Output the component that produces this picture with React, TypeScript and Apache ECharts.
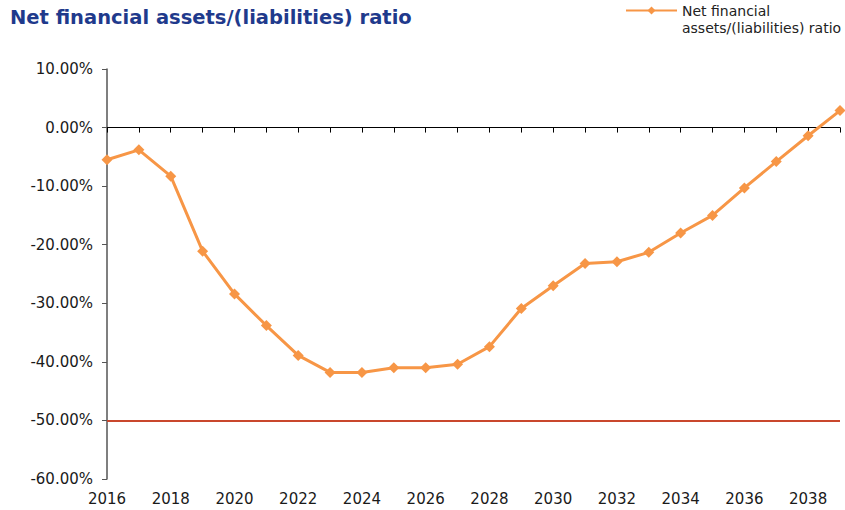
import React, { useEffect, useRef } from "react";
import * as echarts from "echarts";

// Years on the horizontal axis and the ratio (in %) for each year
const years: number[] = [
  2016, 2017, 2018, 2019, 2020, 2021, 2022, 2023, 2024, 2025, 2026, 2027,
  2028, 2029, 2030, 2031, 2032, 2033, 2034, 2035, 2036, 2037, 2038, 2039,
];
const ratioValues: number[] = [
  -5.5, -3.8, -8.3, -21.1, -28.4, -33.8, -38.9, -41.8, -41.8, -41.0, -41.0, -40.4,
  -37.4, -30.9, -27.0, -23.2, -22.9, -21.3, -18.0, -15.0, -10.3, -5.8, -1.4, 2.9,
];
// Threshold drawn as a horizontal reference line
const thresholdValue = -50;

const seriesName = "Net financial\nassets/(liabilities) ratio";
const titleText = "Net financial assets/(liabilities) ratio";

const FONT = "DejaVu Sans";

export default function App() {
  const ref = useRef<HTMLDivElement>(null);

  useEffect(() => {
    if (!ref.current) return;
    const chart = echarts.init(ref.current, undefined, { renderer: "svg" });
    const xMin = years[0];
    const xMax = years[years.length - 1];

    chart.setOption({
      animation: false,
      backgroundColor: "#ffffff",
      title: {
        text: titleText,
        left: 10,
        top: 7,
        padding: 0,
        textStyle: {
          fontFamily: FONT,
          fontSize: 19.5,
          fontWeight: "bold",
          color: "#1F3A8C",
        },
      },
      legend: {
        left: 625,
        top: -15,
        padding: 0,
        itemWidth: 51,
        itemHeight: 10,
        itemGap: 0,
        // a leading blank line keeps the icon level with the first text line
        formatter: (name: string) => "\n" + name,
        textStyle: {
          fontFamily: FONT,
          fontSize: 14,
          color: "#222222",
          lineHeight: 17,
        },
        data: [seriesName],
      },
      grid: {
        left: 107,
        right: 5,
        top: 69,
        bottom: 31,
        containLabel: false,
      },
      xAxis: [
        {
          type: "value",
          min: xMin,
          max: xMax,
          interval: 1,
          position: "bottom",
          axisLine: { show: false, onZero: false },
          axisTick: { show: false },
          splitLine: { show: false },
          axisLabel: {
            margin: 12,
            fontFamily: FONT,
            fontSize: 15,
            color: "#1a1a1a",
            formatter: (v: number) => (v % 2 === 0 ? String(v) : ""),
          },
        },
        {
          type: "value",
          min: xMin,
          max: xMax,
          interval: 1,
          position: "top",
          axisLine: { show: true, onZero: true, lineStyle: { color: "#000000", width: 1 } },
          axisTick: { show: true, inside: true, length: 5, lineStyle: { color: "#000000" } },
          axisLabel: { show: false },
          splitLine: { show: false },
        },
      ],
      yAxis: {
        type: "value",
        min: -60,
        max: 10,
        interval: 10,
        axisLine: { show: true, onZero: false, lineStyle: { color: "#555555", width: 1.5 } },
        axisTick: { show: true, length: 5, lineStyle: { color: "#555555" } },
        splitLine: { show: false },
        axisLabel: {
          margin: 14,
          fontFamily: FONT,
          fontSize: 15,
          color: "#1a1a1a",
          formatter: (v: number) => v.toFixed(2) + "%",
        },
      },
      series: [
        {
          name: seriesName,
          type: "line",
          xAxisIndex: 0,
          data: years.map((y, i) => [y, ratioValues[i]]),
          symbol: "diamond",
          symbolSize: 11,
          lineStyle: { color: "#F79646", width: 3 },
          itemStyle: { color: "#F79646" },
          markLine: {
            silent: true,
            symbol: "none",
            label: { show: false },
            lineStyle: { color: "#C9472D", width: 2, type: "solid" },
            data: [{ yAxis: thresholdValue }],
          },
          z: 3,
        },
      ],
    });

    return () => chart.dispose();
  }, []);

  return (
    <div
      ref={ref}
      style={{ position: "fixed", left: 0, top: 0, width: 845, height: 510 }}
    />
  );
}
